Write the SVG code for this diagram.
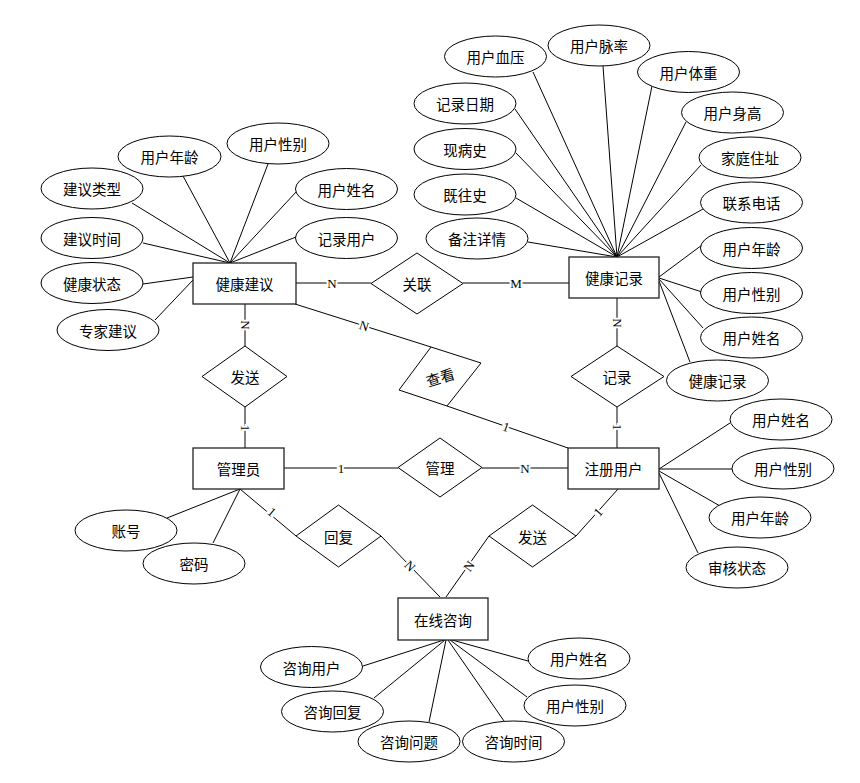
<svg xmlns="http://www.w3.org/2000/svg" width="860" height="783" viewBox="0 0 860 783">
<style>
.e{fill:#fff;stroke:#000;stroke-width:1}
.r{fill:#fff;stroke:#222;stroke-width:1.3}
.d{fill:#fff;stroke:#000;stroke-width:1}
.t{font-family:"Noto Sans CJK SC","Noto Sans",sans-serif;font-size:14.5px;text-anchor:middle;dominant-baseline:central;fill:#000}
.c{font-family:"Liberation Serif",serif;font-size:13px;text-anchor:middle;dominant-baseline:central;fill:#000;stroke:#fff;stroke-width:4;paint-order:stroke}
#conn line{stroke:#000;stroke-width:1}
</style>
<rect width="860" height="783" fill="#fff"/>
<g id="conn">
<line x1="230" y1="263" x2="183" y2="176"/>
<line x1="230" y1="263" x2="268" y2="164"/>
<line x1="230" y1="263" x2="132" y2="203"/>
<line x1="230" y1="263" x2="297" y2="191"/>
<line x1="230" y1="263" x2="143" y2="243"/>
<line x1="230" y1="263" x2="296" y2="237"/>
<line x1="193" y1="277" x2="143" y2="284"/>
<line x1="193" y1="280" x2="155" y2="320"/>
<line x1="617" y1="257" x2="533" y2="72"/>
<line x1="617" y1="257" x2="603" y2="66"/>
<line x1="617" y1="257" x2="652" y2="86"/>
<line x1="617" y1="257" x2="515" y2="109"/>
<line x1="617" y1="257" x2="686" y2="122"/>
<line x1="617" y1="257" x2="516" y2="153"/>
<line x1="617" y1="257" x2="701" y2="165"/>
<line x1="617" y1="257" x2="516" y2="198"/>
<line x1="617" y1="257" x2="703" y2="209"/>
<line x1="617" y1="257" x2="528" y2="242"/>
<line x1="659" y1="277" x2="702" y2="245"/>
<line x1="659" y1="278" x2="702" y2="292"/>
<line x1="659" y1="279" x2="703" y2="328"/>
<line x1="659" y1="281" x2="690" y2="362"/>
<line x1="240" y1="489" x2="167" y2="518"/>
<line x1="240" y1="489" x2="213" y2="543"/>
<line x1="659" y1="469" x2="730" y2="423"/>
<line x1="659" y1="469" x2="732" y2="469"/>
<line x1="659" y1="471" x2="720" y2="506"/>
<line x1="659" y1="473" x2="698" y2="553"/>
<line x1="444" y1="640" x2="363" y2="666"/>
<line x1="445" y1="640" x2="374" y2="698"/>
<line x1="446" y1="640" x2="429" y2="722"/>
<line x1="448" y1="640" x2="504" y2="721"/>
<line x1="450" y1="640" x2="527" y2="697"/>
<line x1="452" y1="640" x2="528" y2="661"/>
<line x1="296" y1="283" x2="371" y2="283"/>
<line x1="463" y1="283" x2="569" y2="283"/>
<line x1="295" y1="304" x2="431" y2="347"/>
<line x1="447" y1="406" x2="568" y2="448"/>
<line x1="245" y1="304" x2="245" y2="346"/>
<line x1="245" y1="407" x2="245" y2="448"/>
<line x1="617" y1="298" x2="617" y2="346"/>
<line x1="617" y1="407" x2="617" y2="448"/>
<line x1="284" y1="468" x2="398" y2="468"/>
<line x1="482" y1="468" x2="568" y2="468"/>
<line x1="240" y1="489" x2="296" y2="536"/>
<line x1="381" y1="536" x2="440" y2="597"/>
<line x1="489" y1="536" x2="446" y2="597"/>
<line x1="576" y1="536" x2="618" y2="489"/>
<text class="c" x="332" y="283">N</text>
<text class="c" x="516" y="283">M</text>
<text class="c" x="364" y="326" transform="rotate(17.6 364 326)" fill="#444">N</text>
<text class="c" x="506" y="427" transform="rotate(19 506 427)">1</text>
<text class="c" x="245" y="325" transform="rotate(90 245 325)">N</text>
<text class="c" x="245" y="428" transform="rotate(90 245 428)">1</text>
<text class="c" x="617" y="323" transform="rotate(90 617 323)">N</text>
<text class="c" x="617" y="427" transform="rotate(90 617 427)">1</text>
<text class="c" x="341" y="468">1</text>
<text class="c" x="525" y="468">N</text>
<text class="c" x="272" y="512" transform="rotate(40 272 512)">1</text>
<text class="c" x="410" y="566" transform="rotate(46 410 566)">N</text>
<text class="c" x="469" y="566" transform="rotate(-55 469 566)">N</text>
<text class="c" x="598" y="512" transform="rotate(-48 598 512)">1</text>
</g>
<g id="jkjy"><rect class="r" x="193" y="263" width="103" height="41"/><text class="t" x="244.5" y="283.5">健康建议</text></g>
<g id="jkjl"><rect class="r" x="569" y="257" width="90" height="41"/><text class="t" x="614" y="277.5">健康记录</text></g>
<g id="gly"><rect class="r" x="193" y="448" width="91" height="41"/><text class="t" x="238.5" y="468.5">管理员</text></g>
<g id="zcyh"><rect class="r" x="568" y="448" width="91" height="41"/><text class="t" x="613.5" y="468.5">注册用户</text></g>
<g id="zxzx"><rect class="r" x="398" y="598" width="90" height="42"/><text class="t" x="443" y="619">在线咨询</text></g>
<g id="guanlian"><polygon class="d" points="417,253 463,283.5 417,314 371,283.5"/><text class="t" x="417" y="283.5">关联</text></g>
<g id="fasong1"><polygon class="d" points="245,346 287,376.5 245,407 202,376.5"/><text class="t" x="245" y="376.5">发送</text></g>
<g id="jilu"><polygon class="d" points="617,346 664,376.5 617,407 571,376.5"/><text class="t" x="617" y="376.5">记录</text></g>
<g id="chakan"><polygon class="d" points="431,347 481,363 447,406 399,390"/><text class="t" x="440" y="376.5" transform="rotate(-17 440 376.5)" fill="#555">查看</text></g>
<g id="guanli"><polygon class="d" points="440,438 482,467.5 440,497 398,467.5"/><text class="t" x="440" y="467.5">管理</text></g>
<g id="huifu"><polygon class="d" points="338.5,505 381,536 338.5,567 296,536"/><text class="t" x="338.5" y="536">回复</text></g>
<g id="fasong2"><polygon class="d" points="532.5,505 576,536 532.5,567 489,536"/><text class="t" x="532.5" y="536">发送</text></g>
<g id="a1"><ellipse class="e" cx="169.5" cy="156.5" rx="51.5" ry="20.5"/><text class="t" x="169.5" y="156.5">用户年龄</text></g>
<g id="a2"><ellipse class="e" cx="278" cy="143.5" rx="51" ry="20.5"/><text class="t" x="278" y="143.5">用户性别</text></g>
<g id="a3"><ellipse class="e" cx="92" cy="188.5" rx="51" ry="20.5"/><text class="t" x="92" y="188.5">建议类型</text></g>
<g id="a4"><ellipse class="e" cx="346.5" cy="189" rx="51" ry="20.5"/><text class="t" x="346.5" y="189">用户姓名</text></g>
<g id="a5"><ellipse class="e" cx="92" cy="238" rx="51" ry="20.5"/><text class="t" x="92" y="238">建议时间</text></g>
<g id="a6"><ellipse class="e" cx="346.5" cy="238" rx="51" ry="20.5"/><text class="t" x="346.5" y="238">记录用户</text></g>
<g id="a7"><ellipse class="e" cx="92" cy="283" rx="51" ry="20.5"/><text class="t" x="92" y="283">健康状态</text></g>
<g id="a8"><ellipse class="e" cx="108" cy="330" rx="51" ry="20.5"/><text class="t" x="108" y="330">专家建议</text></g>
<g id="b1"><ellipse class="e" cx="495.5" cy="56.5" rx="51" ry="20.5"/><text class="t" x="495.5" y="56.5">用户血压</text></g>
<g id="b2"><ellipse class="e" cx="599" cy="45.5" rx="51" ry="20.5"/><text class="t" x="599" y="45.5">用户脉率</text></g>
<g id="b3"><ellipse class="e" cx="688.5" cy="72" rx="51" ry="20.5"/><text class="t" x="688.5" y="72">用户体重</text></g>
<g id="b4"><ellipse class="e" cx="465" cy="103.5" rx="51" ry="20.5"/><text class="t" x="465" y="103.5">记录日期</text></g>
<g id="b5"><ellipse class="e" cx="732.5" cy="112.5" rx="51" ry="20.5"/><text class="t" x="732.5" y="112.5">用户身高</text></g>
<g id="b6"><ellipse class="e" cx="465" cy="149" rx="51" ry="20.5"/><text class="t" x="465" y="149">现病史</text></g>
<g id="b7"><ellipse class="e" cx="750" cy="157.5" rx="51" ry="20.5"/><text class="t" x="750" y="157.5">家庭住址</text></g>
<g id="b8"><ellipse class="e" cx="465" cy="194.5" rx="51" ry="20.5"/><text class="t" x="465" y="194.5">既往史</text></g>
<g id="b9"><ellipse class="e" cx="751.5" cy="202.5" rx="51" ry="20.5"/><text class="t" x="751.5" y="202.5">联系电话</text></g>
<g id="b10"><ellipse class="e" cx="477" cy="238.5" rx="51" ry="20.5"/><text class="t" x="477" y="238.5">备注详情</text></g>
<g id="b11"><ellipse class="e" cx="751.5" cy="248" rx="51" ry="20.5"/><text class="t" x="751.5" y="248">用户年龄</text></g>
<g id="b12"><ellipse class="e" cx="751.5" cy="293" rx="51" ry="20.5"/><text class="t" x="751.5" y="293">用户性别</text></g>
<g id="b13"><ellipse class="e" cx="751.5" cy="337.5" rx="51" ry="20.5"/><text class="t" x="751.5" y="337.5">用户姓名</text></g>
<g id="b14"><ellipse class="e" cx="717.5" cy="380.5" rx="51" ry="20.5"/><text class="t" x="717.5" y="380.5">健康记录</text></g>
<g id="c1"><ellipse class="e" cx="126" cy="530.5" rx="51" ry="20.5"/><text class="t" x="126" y="530.5">账号</text></g>
<g id="c2"><ellipse class="e" cx="194" cy="563.5" rx="51" ry="20.5"/><text class="t" x="194" y="563.5">密码</text></g>
<g id="d1"><ellipse class="e" cx="781" cy="419.5" rx="51" ry="20.5"/><text class="t" x="781" y="419.5">用户姓名</text></g>
<g id="d2"><ellipse class="e" cx="783" cy="468.5" rx="51" ry="20.5"/><text class="t" x="783" y="468.5">用户性别</text></g>
<g id="d3"><ellipse class="e" cx="760" cy="517.5" rx="51" ry="20.5"/><text class="t" x="760" y="517.5">用户年龄</text></g>
<g id="d4"><ellipse class="e" cx="737" cy="567.5" rx="51" ry="20.5"/><text class="t" x="737" y="567.5">审核状态</text></g>
<g id="f1"><ellipse class="e" cx="311.5" cy="667" rx="51" ry="20.5"/><text class="t" x="311.5" y="667">咨询用户</text></g>
<g id="f2"><ellipse class="e" cx="332.5" cy="711.5" rx="51" ry="20.5"/><text class="t" x="332.5" y="711.5">咨询回复</text></g>
<g id="f3"><ellipse class="e" cx="409" cy="741.5" rx="51" ry="20.5"/><text class="t" x="409" y="741.5">咨询问题</text></g>
<g id="f4"><ellipse class="e" cx="513.5" cy="741.5" rx="51" ry="20.5"/><text class="t" x="513.5" y="741.5">咨询时间</text></g>
<g id="f5"><ellipse class="e" cx="575" cy="705.5" rx="51" ry="20.5"/><text class="t" x="575" y="705.5">用户性别</text></g>
<g id="f6"><ellipse class="e" cx="579" cy="658.5" rx="51" ry="20.5"/><text class="t" x="579" y="658.5">用户姓名</text></g>
</svg>
